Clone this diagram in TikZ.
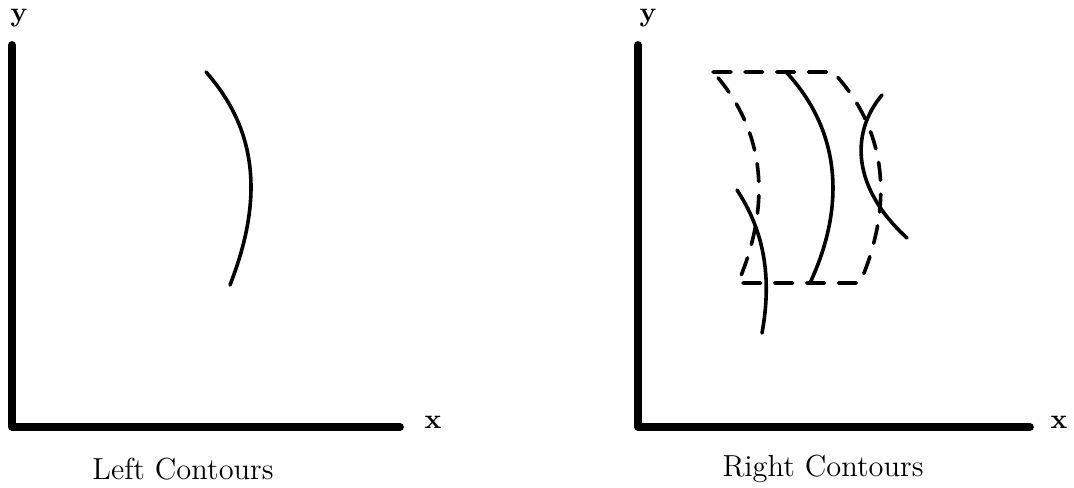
\documentclass[tikz,border=0pt]{standalone}
\usepackage{tikz}
\usetikzlibrary{positioning,calc}

\begin{document}
\begin{tikzpicture}[x=1.27cm,y=1.27cm,
    axis/.style={line width=2.8pt,line cap=round,line join=round},
    contour/.style={line width=1.3pt,line cap=round},
    outline/.style={contour,dash pattern=on 6.5pt off 5pt},
    axlabel/.style={font=\bfseries},
    caption/.style={font=\fontsize{11}{13}\selectfont}]
      \useasboundingbox (0,0) rectangle (10.74,4.88);

      % left panel
      \coordinate (lo) at (0.12,0.61);
      \coordinate (ltop) at (0.12,4.43);
      \coordinate (lend) at (4.00,0.61);
      \draw[axis] (ltop) -- (lo) -- (lend);
      \node[axlabel] (ly) at (0.19,4.70) {y};
      \node[axlabel] (lx) at (4.33,0.66) {x};
      \node[caption] (lcap) at (1.83,0.19) {Left Contours};

      \draw[contour] (2.06,4.16) .. controls (2.60,3.55) and (2.62,2.85) .. (2.30,2.03);

      % right panel
      \coordinate (ro) at (6.38,0.61);
      \coordinate (rtop) at (6.38,4.43);
      \coordinate (rend) at (10.30,0.61);
      \draw[axis] (rtop) -- (ro) -- (rend);
      \node[axlabel] (ry) at (6.48,4.70) {y};
      \node[axlabel] (rx) at (10.59,0.66) {x};
      \node[caption] (rcap) at (8.23,0.19) {Right Contours};

      \draw[outline] (7.13,4.16) -- (8.33,4.16)
        .. controls (8.90,3.55) and (8.92,2.80) .. (8.60,2.05)
        -- (7.38,2.05)
        .. controls (7.70,2.80) and (7.68,3.55) .. (7.13,4.16);

      \draw[contour] (7.87,4.15) .. controls (8.42,3.55) and (8.45,2.80) .. (8.10,2.05);
      \draw[contour] (7.37,2.98) .. controls (7.62,2.60) and (7.73,2.15) .. (7.62,1.55);
      \draw[contour] (8.82,3.93) .. controls (8.50,3.55) and (8.52,3.00) .. (9.07,2.50);
    \end{tikzpicture}
\end{document}
